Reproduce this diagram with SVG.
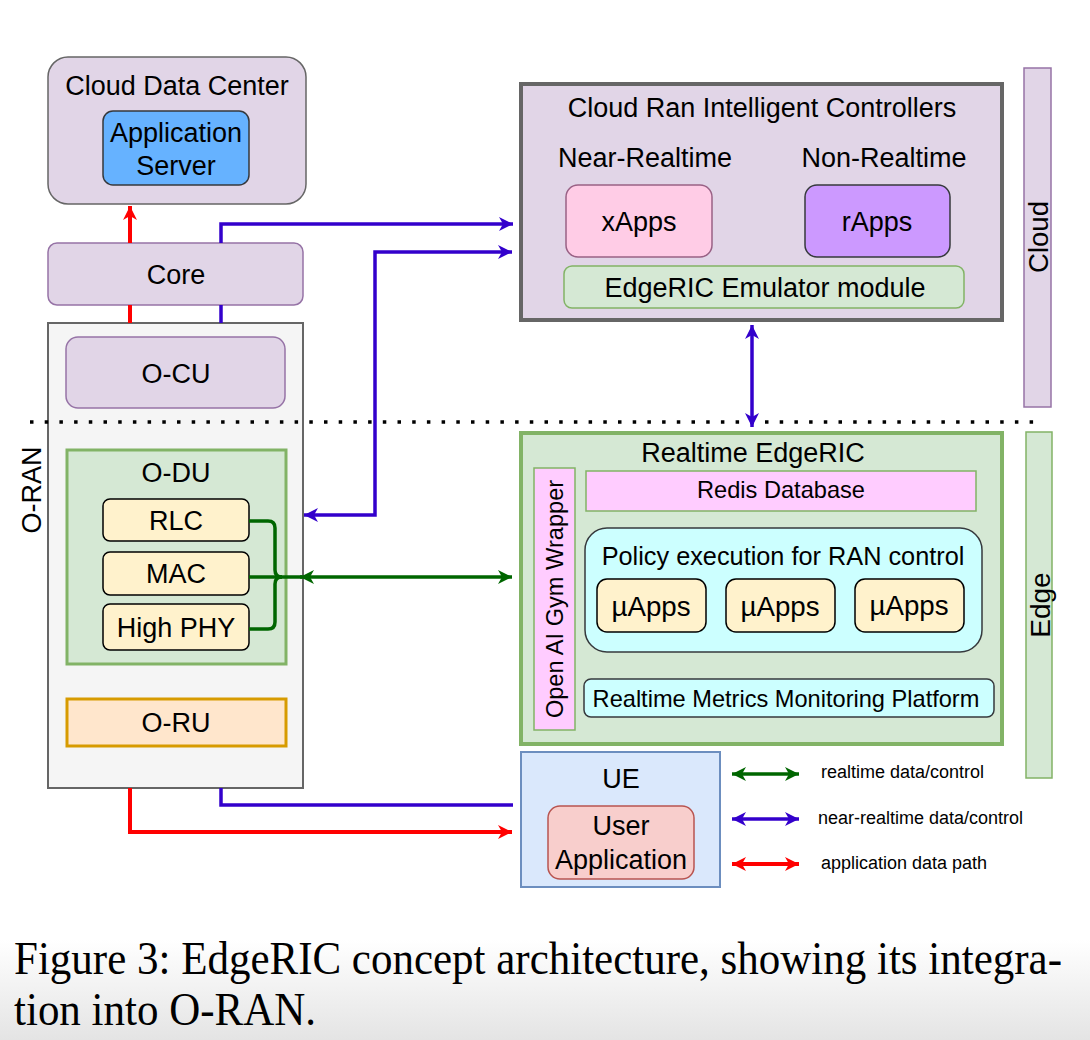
<svg xmlns="http://www.w3.org/2000/svg" width="1090" height="1040" viewBox="0 0 1090 1040">
<defs>
<linearGradient id="bg" x1="0" y1="0" x2="0" y2="1">
<stop offset="0" stop-color="#ffffff"/>
<stop offset="1" stop-color="#e4e4e4"/>
</linearGradient>
<marker id="ab" markerUnits="userSpaceOnUse" markerWidth="16" markerHeight="16" refX="15" refY="8" orient="auto-start-reverse" viewBox="0 0 16 16"><path d="M1,1 L15,8 L1,15 L5,8 Z" fill="#3300cc"/></marker>
<marker id="ag" markerUnits="userSpaceOnUse" markerWidth="16" markerHeight="16" refX="15" refY="8" orient="auto-start-reverse" viewBox="0 0 16 16"><path d="M1,1 L15,8 L1,15 L5,8 Z" fill="#006600"/></marker>
<marker id="ar" markerUnits="userSpaceOnUse" markerWidth="16" markerHeight="16" refX="15" refY="8" orient="auto-start-reverse" viewBox="0 0 16 16"><path d="M1,1 L15,8 L1,15 L5,8 Z" fill="#ff0000"/></marker>
</defs>
<style>
text{font-family:"Liberation Sans",Arial,sans-serif;fill:#000;text-anchor:middle;dominant-baseline:central}
.t26{font-size:27px}
.t24{font-size:23.6px}
.leg{font-size:18px;text-anchor:start}
.cap{font-family:"Liberation Serif","Times New Roman",serif;font-size:40px;text-anchor:start;dominant-baseline:alphabetic}
.purple{fill:#e1d5e7;stroke:#9673a6;stroke-width:1.5}
.green{fill:#d5e8d4;stroke:#82b366}
.yel{fill:#fff2cc;stroke:#000;stroke-width:1.5}
.blue{fill:none;stroke:#3300cc;stroke-width:3.5}
.red{fill:none;stroke:#ff0000;stroke-width:4}
.grn{fill:none;stroke:#006600;stroke-width:3.5}
</style>
<rect x="0" y="0" width="1090" height="1040" fill="#ffffff"/>
<rect x="0" y="940" width="1090" height="100" fill="url(#bg)"/>

<g id="cloud-data-center">
<rect x="48" y="57" width="258" height="147" rx="20" fill="#e1d5e7" stroke="#666666" stroke-width="1.5"/>
<text class="t26" x="177" y="86">Cloud Data Center</text>
</g>
<g id="application-server">
<rect x="103" y="111" width="146" height="74" rx="10" fill="#66b2ff" stroke="#36393d" stroke-width="1.5"/>
<text class="t26" x="176" y="133">Application</text>
<text class="t26" x="176" y="166">Server</text>
</g>
<g id="core">
<rect class="purple" x="48" y="243" width="255" height="62" rx="9"/>
<text class="t26" x="176" y="275">Core</text>
</g>
<g id="o-ran">
<rect x="48" y="323" width="255" height="465" fill="#f5f5f5" stroke="#666666" stroke-width="2"/>
<text class="t26" transform="translate(32,490) rotate(-90)">O-RAN</text>
</g>
<g id="o-cu">
<rect class="purple" x="66" y="337" width="219" height="71" rx="12"/>
<text class="t26" x="176" y="374">O-CU</text>
</g>
<g id="o-du">
<rect class="green" x="67" y="450" width="219" height="214" stroke-width="3"/>
<text class="t26" x="176" y="473">O-DU</text>
</g>
<g id="rlc">
<rect class="yel" x="103" y="499" width="146" height="42" rx="7"/>
<text class="t26" x="176" y="521">RLC</text>
</g>
<g id="mac">
<rect class="yel" x="103" y="552" width="146" height="43" rx="7"/>
<text class="t26" x="176" y="574">MAC</text>
</g>
<g id="high-phy">
<rect class="yel" x="103" y="604" width="146" height="46" rx="7"/>
<text class="t26" x="176" y="628">High PHY</text>
</g>
<g id="o-ru">
<rect x="67" y="699" width="219" height="47" fill="#ffe6cc" stroke="#d79b00" stroke-width="3"/>
<text class="t26" x="176" y="723">O-RU</text>
</g>

<g id="cloud-ric">
<rect x="521" y="84" width="481" height="236" fill="#e1d5e7" stroke="#666666" stroke-width="4"/>
<text class="t26" x="762" y="108">Cloud Ran Intelligent Controllers</text>
<text class="t26" x="645" y="158">Near-Realtime</text>
<text class="t26" x="884" y="158">Non-Realtime</text>
</g>
<g id="xapps">
<rect x="566" y="185" width="146" height="72" rx="12" fill="#ffcce6" stroke="#996185" stroke-width="1.5"/>
<text class="t26" x="639" y="222">xApps</text>
</g>
<g id="rapps">
<rect x="805" y="185" width="145" height="72" rx="12" fill="#cc99ff" stroke="#36393d" stroke-width="1.5"/>
<text class="t26" x="877" y="222">rApps</text>
</g>
<g id="edgeric-emulator">
<rect class="green" x="564" y="266" width="400" height="42" rx="8" stroke-width="1.5"/>
<text class="t26" x="765" y="288">EdgeRIC Emulator module</text>
</g>
<g id="cloud-label">
<rect class="purple" x="1024" y="68" width="27" height="339"/>
<text class="t26" transform="translate(1038,237) rotate(-90)" style="font-size:27.5px">Cloud</text>
</g>
<g id="edge-label">
<rect class="green" x="1026" y="432" width="26" height="346" stroke-width="1.5"/>
<text class="t26" transform="translate(1040,605) rotate(-90)" style="font-size:28px">Edge</text>
</g>

<g id="realtime-edgeric">
<rect class="green" x="521" y="433" width="481" height="311" stroke-width="4"/>
<text class="t26" x="753" y="453">Realtime EdgeRIC</text>
</g>
<g id="gym-wrapper">
<rect x="534" y="468" width="41" height="262" fill="#ffccff" stroke="#82b366" stroke-width="1.5"/>
<text class="t24" transform="translate(555,599) rotate(-90)">Open AI Gym Wrapper</text>
</g>
<g id="redis">
<rect x="586" y="471" width="390" height="40" fill="#ffccff" stroke="#82b366" stroke-width="1.5"/>
<text class="t24" x="781" y="490">Redis Database</text>
</g>
<g id="policy">
<rect x="585" y="528" width="397" height="124" rx="22" fill="#ccffff" stroke="#36393d" stroke-width="1.5"/>
<text class="t24" x="783" y="556" style="font-size:25.3px">Policy execution for RAN control</text>
</g>
<g id="uapps-1">
<rect class="yel" x="597" y="579" width="109" height="53" rx="10"/>
<text class="t26" x="651" y="606" style="font-size:27.7px">µApps</text>
</g>
<g id="uapps-2">
<rect class="yel" x="726" y="579" width="109" height="53" rx="10"/>
<text class="t26" x="780" y="606" style="font-size:27.7px">µApps</text>
</g>
<g id="uapps-3">
<rect class="yel" x="855" y="579" width="109" height="53" rx="10"/>
<text class="t26" x="909" y="605" style="font-size:27.7px">µApps</text>
</g>
<g id="metrics">
<rect x="584" y="679" width="410" height="38" rx="7" fill="#ccffff" stroke="#36393d" stroke-width="1.5"/>
<text class="t24" x="786" y="699">Realtime Metrics Monitoring Platform</text>
</g>

<g id="ue">
<rect x="521" y="752" width="199" height="135" fill="#dae8fc" stroke="#6c8ebf" stroke-width="2"/>
<text class="t26" x="621" y="779">UE</text>
</g>
<g id="user-application">
<rect x="548" y="806" width="146" height="73" rx="12" fill="#f8cecc" stroke="#b85450" stroke-width="1.5"/>
<text class="t26" x="621" y="826">User</text>
<text class="t26" x="621" y="860">Application</text>
</g>

<g id="connectors">
<line x1="30" y1="422" x2="1042" y2="422" stroke="#000" stroke-width="3.5" stroke-dasharray="3.5 11.2"/>
<path class="red" d="M130,243 V206" marker-end="url(#ar)"/>
<path class="red" d="M130,305 V323"/>
<path class="blue" d="M221,243 V224 H513" marker-end="url(#ab)"/>
<path class="blue" d="M221,305 V323"/>
<path class="blue" d="M304,515 H375 V252 H512" marker-start="url(#ab)" marker-end="url(#ab)"/>
<path class="blue" d="M752,325 V427" stroke-width="3" marker-start="url(#ab)" marker-end="url(#ab)"/>
<path class="grn" d="M249,521 H268 Q275,521 275,528 V570 Q275,577 282,577"/>
<path class="grn" d="M249,629 H268 Q275,629 275,622 V584 Q275,577 282,577"/>
<path class="grn" d="M249,577 H302"/>
<path class="grn" d="M300,577 H512" marker-start="url(#ag)" marker-end="url(#ag)"/>
<path class="blue" d="M221,788 V805 H513"/>
<path class="red" d="M130,788 V832 H512" marker-end="url(#ar)"/>
</g>

<g id="legend">
<path class="grn" d="M732,774 H799" stroke-width="3" marker-start="url(#ag)" marker-end="url(#ag)"/>
<path class="blue" d="M732,819 H799" stroke-width="3" marker-start="url(#ab)" marker-end="url(#ab)"/>
<path class="red" d="M732,864 H799" stroke-width="3" marker-start="url(#ar)" marker-end="url(#ar)"/>
<text class="leg" x="821" y="772">realtime data/control</text>
<text class="leg" x="818" y="818">near-realtime data/control</text>
<text class="leg" x="821" y="863">application data path</text>
</g>

<g id="caption">
<text class="cap" transform="translate(14,974) scale(1,1.15)" x="0" y="0" textLength="1048" lengthAdjust="spacingAndGlyphs">Figure 3: EdgeRIC concept architecture, showing its integra-</text>
<text class="cap" transform="translate(14,1025) scale(1,1.15)" x="0" y="0" textLength="302" lengthAdjust="spacingAndGlyphs">tion into O-RAN.</text>
</g>
</svg>
